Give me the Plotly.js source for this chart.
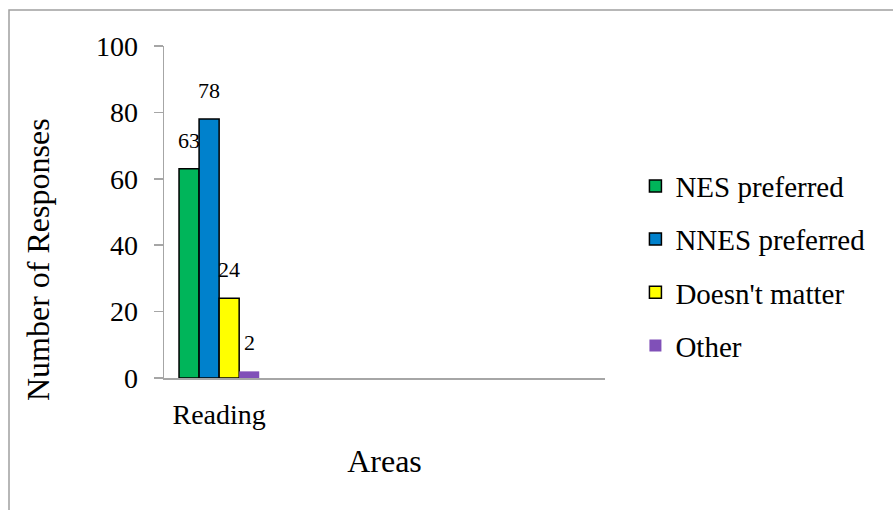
<!DOCTYPE html>
<html>
<head>
<meta charset="utf-8">
<script src="https://cdn.plot.ly/plotly-3.0.1.min.js"></script>
<style>html,body{margin:0;padding:0;background:#fff;}#chart{width:893px;height:510px;}</style>
</head>
<body>
<div id="chart"></div>
<script>
// Data
var categories = ["Reading", " ", "  ", "   "];
var seriesNames = ["NES preferred", "NNES preferred", "Doesn't matter", "Other"];
var nesPreferred = [63, null, null, null];
var nnesPreferred = [78, null, null, null];
var doesntMatter = [24, null, null, null];
var other = [2, null, null, null];
var yTickVals = [0, 20, 40, 60, 80, 100];

var seriesValues = [nesPreferred, nnesPreferred, doesntMatter, other];
var colors = ["#00b55a", "#0081cc", "#ffff00", "#8050b8"];
var outlines = [1.5, 1.5, 1.5, 0];
var FONT = "Liberation Serif, Times New Roman, serif";

var bargap = 30 / 110;
var nSeries = seriesValues.length;
var barW = (1 - bargap) / nSeries;

var traces = seriesValues.map(function (vals, i) {
  return {
    type: "bar",
    name: seriesNames[i],
    x: categories,
    y: vals,
    legendgroup: "g" + i,
    marker: { color: colors[i], line: { color: "#000", width: outlines[i] } },
    hoverinfo: "name+y"
  };
});

// Data labels above each bar
var annotations = [];
seriesValues.forEach(function (vals, i) {
  vals.forEach(function (v, j) {
    if (v === null) return;
    annotations.push({
      xref: "x", yref: "y",
      x: j - (1 - bargap) / 2 + barW * (i + 0.5),
      y: v,
      text: String(v),
      showarrow: false,
      yanchor: "bottom",
      yshift: 14,
      font: { family: FONT, size: 22, color: "#000" }
    });
  });
});

// Y axis title (positioned like the original)
annotations.push({
  xref: "paper", yref: "paper",
  x: (38 - 164) / 441, y: (378 - 260) / 332,
  xanchor: "center", yanchor: "middle",
  text: "Number of Responses",
  textangle: -90,
  showarrow: false,
  font: { family: FONT, size: 32, color: "#000" }
});

var layout = {
  width: 893, height: 510,
  margin: { l: 164, r: 288, t: 46, b: 132 },
  paper_bgcolor: "#fff", plot_bgcolor: "#fff",
  font: { family: FONT, color: "#000" },
  barmode: "group",
  bargap: bargap,
  bargroupgap: 0,
  showlegend: true,
  legend: {
    x: 1.069, y: 0.655, xanchor: "left", yanchor: "top",
    font: { family: FONT, size: 29, color: "#000" },
    traceorder: "grouped",
    tracegroupgap: 12.5,
    bgcolor: "rgba(0,0,0,0)"
  },
  xaxis: {
    type: "category",
    categoryarray: categories,
    categoryorder: "array",
    range: [-0.5, categories.length - 0.5],
    showline: true, linecolor: "#a6a6a6", linewidth: 1.5,
    ticks: "", showgrid: false, zeroline: false,
    tickfont: { family: FONT, size: 28, color: "#000" },
    ticklabelstandoff: 11,
    title: { text: "Areas", font: { family: FONT, size: 32, color: "#000" }, standoff: 20 },
    automargin: false,
    fixedrange: true
  },
  yaxis: {
    range: [0, 100],
    tickvals: yTickVals,
    showline: true, linecolor: "#a6a6a6", linewidth: 1.5,
    ticks: "outside", ticklen: 9, tickcolor: "#a6a6a6", tickwidth: 1.5,
    showgrid: false, zeroline: false,
    tickfont: { family: FONT, size: 28, color: "#000" },
    ticklabelstandoff: 10,
    automargin: false,
    fixedrange: true
  },
  annotations: annotations,
  shapes: [{
    type: "rect", xref: "paper", yref: "paper",
    x0: (9 - 164) / 441, x1: 2,
    y0: -1, y1: (378 - 10) / 332,
    line: { color: "#a0a0a0", width: 1.5 },
    fillcolor: "rgba(0,0,0,0)",
    layer: "below"
  }]
};

Plotly.newPlot("chart", traces, layout, { displayModeBar: false, staticPlot: true });
</script>
</body>
</html>
